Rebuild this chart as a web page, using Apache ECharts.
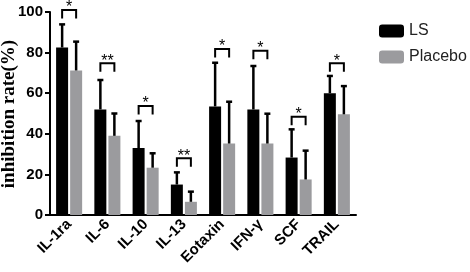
<!DOCTYPE html>
<html>
<head>
<meta charset="utf-8">
<script src="https://cdn.jsdelivr.net/npm/echarts@6/dist/echarts.min.js"></script>
<style>
  html, body { margin: 0; padding: 0; background: #fff; }
  #chart { width: 470px; height: 272px; }
</style>
</head>
<body>
<div id="chart"></div>
<script>
// chart data
const categories = ['IL-1ra', 'IL-6', 'IL-10', 'IL-13', 'Eotaxin', 'IFN-γ', 'SCF', 'TRAIL']
const lsMean = [82.5, 52.0, 33.0, 15.0, 53.5, 52.0, 28.3, 60.0]
const lsErr = [11.4, 14.5, 13.3, 6.0, 21.5, 21.4, 13.9, 8.5]
const placeboMean = [71.2, 39.0, 23.3, 6.5, 35.2, 35.2, 17.5, 49.6]
const placeboErr = [14.2, 11.0, 7.1, 5.0, 20.6, 14.7, 14.2, 13.9]
const sigMarks = ['*', '**', '*', '**', '*', '*', '*', '*']
const sigLevel = [101.0, 74.7, 53.7, 27.9, 81.8, 80.9, 48.4, 74.7]
const yTicks = [0, 20, 40, 60, 80, 100]
const yTitle = 'inhibition rate(%)'

const BAR_W = 12
const HALF = 7 // offset of each bar centre from the category centre

const chart = echarts.init(document.getElementById('chart'))

const errorSeries = (means, errs, dir) => ({
  type: 'custom',
  z: 5,
  silent: true,
  clip: false,
  data: means.map((m, i) => [i, m, m + errs[i]]),
  renderItem: (params, api) => {
    const lo = api.coord([api.value(0), api.value(1)])
    const hi = api.coord([api.value(0), api.value(2)])
    const x = lo[0] + dir * HALF
    return {
      type: 'group',
      children: [
        { type: 'line', shape: { x1: x, y1: lo[1], x2: x, y2: hi[1] }, style: { stroke: '#000', lineWidth: 2.5 } },
        { type: 'line', shape: { x1: x - 3, y1: hi[1], x2: x + 3, y2: hi[1] }, style: { stroke: '#000', lineWidth: 2.5 } },
      ],
    }
  },
})

const option = {
  animation: false,
  backgroundColor: '#fff',
  grid: { left: 50, right: 114, top: 12, bottom: 57, outerBoundsMode: 'none', containLabel: false },
  // y axis title drawn by hand so it sits where the reference has it
  graphic: [
    {
      type: 'text',
      x: 9,
      y: 114,
      rotation: Math.PI / 2,
      style: {
        text: yTitle,
        align: 'center',
        verticalAlign: 'middle',
        fontFamily: 'Liberation Serif, Times New Roman',
        fontSize: 19,
        fontWeight: 'bold',
        fill: '#000',
      },
    },
  ],
  legend: {
    data: ['LS', 'Placebo'],
    orient: 'vertical',
    left: 374,
    top: 18,
    itemWidth: 25,
    itemHeight: 13,
    itemGap: 10,
    icon: 'roundRect',
    textStyle: { fontFamily: 'Arial, Liberation Sans', fontSize: 16, color: '#222' },
  },
  xAxis: {
    type: 'category',
    data: categories,
    axisLine: { lineStyle: { color: '#000', width: 2 } },
    axisTick: { alignWithLabel: true, length: 5, lineStyle: { color: '#000', width: 2 } },
    axisLabel: {
      rotate: 45,
      margin: 7,
      interval: 0,
      color: '#000',
      fontFamily: 'Arial, Liberation Sans',
      fontSize: 15,
      fontWeight: 'bold',
    },
  },
  yAxis: {
    type: 'value',
    min: yTicks[0],
    max: yTicks[yTicks.length - 1],
    interval: 20,
    splitLine: { show: false },
    axisLine: { show: true, lineStyle: { color: '#000', width: 2 } },
    axisTick: { show: true, length: 5, lineStyle: { color: '#000', width: 2 } },
    axisLabel: { margin: 7, color: '#000', fontFamily: 'Arial, Liberation Sans', fontSize: 15, fontWeight: 'bold' },
  },
  series: [
    {
      name: 'LS',
      type: 'bar',
      data: lsMean,
      barWidth: BAR_W,
      barGap: '17%',
      itemStyle: { color: '#000' },
    },
    {
      name: 'Placebo',
      type: 'bar',
      data: placeboMean,
      barWidth: BAR_W,
      itemStyle: { color: '#9b9b9e' },
    },
    errorSeries(lsMean, lsErr, -1),
    errorSeries(placeboMean, placeboErr, 1),
    {
      type: 'custom',
      z: 6,
      silent: true,
      clip: false,
      data: sigLevel.map((v, i) => [i, v]),
      renderItem: (params, api) => {
        const p = api.coord([api.value(0), api.value(1)])
        const x1 = p[0] - HALF
        const x2 = p[0] + HALF
        const y = p[1]
        return {
          type: 'group',
          children: [
            {
              type: 'polyline',
              shape: { points: [[x1, y + 8.5], [x1, y], [x2, y], [x2, y + 8.5]] },
              style: { stroke: '#000', lineWidth: 2, fill: null },
            },
            {
              type: 'text',
              style: {
                text: sigMarks[params.dataIndex],
                x: p[0],
                y: y + 6,
                align: 'center',
                verticalAlign: 'bottom',
                fontFamily: 'Arial, Liberation Sans',
                fontSize: 16,
                fill: '#000',
              },
            },
          ],
        }
      },
    },
  ],
}

chart.setOption(option)
</script>
</body>
</html>
